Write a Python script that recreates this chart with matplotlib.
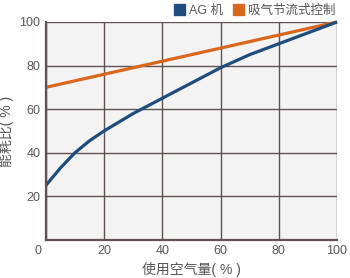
import matplotlib
matplotlib.use("Agg")
import matplotlib.pyplot as plt
from matplotlib.patches import Patch
from matplotlib.transforms import ScaledTranslation
import numpy as np

plt.rcParams['font.family'] = ['Liberation Sans', 'Noto Sans CJK SC', 'DejaVu Sans']

x_ag = [0, 5, 10, 15, 20, 30, 40, 50, 60, 70, 80, 90, 100]
y_ag = [25, 33, 40, 45.5, 50, 58, 65, 72, 79, 85, 90, 95, 100]
x_th = [0, 100]
y_th = [70, 100]
series_names = ["AG 机", "吸气节流式控制"]
xticks = [0, 20, 40, 60, 80, 100]
yticks = [20, 40, 60, 80, 100]

blue = "#1f4c7c"
orange = "#d9661c"
gridc = "#5e5350"
textc = "#555555"

fig = plt.figure(figsize=(3.5, 2.78), dpi=100)
ax = fig.add_axes([0.131, 0.137, 0.832, 0.784])
ax.set_facecolor("#f3f3f3")
ax.set_xlim(0, 100)
ax.set_ylim(0, 100)
ax.set_xticks(xticks)
ax.set_yticks(yticks)
ax.grid(True, color=gridc, linewidth=1.0)
ax.set_axisbelow(True)
for s in ['top', 'right']:
    ax.spines[s].set_visible(False)
for s in ['left', 'bottom']:
    ax.spines[s].set_color(gridc)
    ax.spines[s].set_linewidth(1.6)
ax.tick_params(length=0, labelsize=9, labelcolor=textc, pad=4)

ax.plot(x_th, y_th, color=orange, linewidth=2.3, solid_capstyle='butt', clip_on=False)
ax.plot(x_ag, y_ag, color=blue, linewidth=2.3, solid_capstyle='butt', clip_on=False)

for lbl in ax.get_xticklabels():
    if lbl.get_text() == "0":
        lbl.set_transform(lbl.get_transform() + ScaledTranslation(-8/100, 0, fig.dpi_scale_trans))

ax.set_xlabel("使用空气量( % )", fontsize=10, color=textc, labelpad=3)
ax.set_ylabel("能耗比( % )", fontsize=10, color=textc, labelpad=4)

handles = [Patch(color=blue), Patch(color=orange)]
fig.legend(handles, series_names, loc='upper right', bbox_to_anchor=(0.99, 1.025), ncol=2,
           frameon=False, fontsize=9, labelcolor=textc, handlelength=0.9, handleheight=0.9,
           handletextpad=0.3, columnspacing=0.8)

fig.savefig("out.png", dpi=100)
